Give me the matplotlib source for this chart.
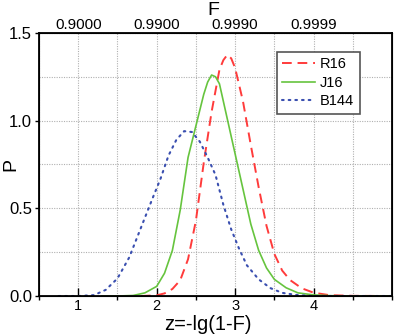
import matplotlib
matplotlib.use('Agg')
import matplotlib.pyplot as plt
from matplotlib.ticker import MultipleLocator, NullFormatter

plt.rcParams['font.family'] = ['Liberation Sans', 'DejaVu Sans']

# values
z_r16 = [1.6, 1.8, 2.0, 2.1, 2.2, 2.3, 2.4, 2.5, 2.6, 2.7, 2.8, 2.85, 2.9, 2.95,
         3.0, 3.1, 3.2, 3.3, 3.4, 3.5, 3.6, 3.7, 3.85, 4.0, 4.2, 4.5, 5.0]
p_r16 = [0, 0, 0.004, 0.015, 0.04, 0.09, 0.21, 0.43, 0.76, 1.05, 1.29, 1.345, 1.375, 1.355,
         1.30, 1.11, 0.86, 0.62, 0.40, 0.24, 0.145, 0.091, 0.044, 0.019, 0.005, 0.001, 0]

z_j16 = [1.3, 1.5, 1.7, 1.85, 2.0, 2.1, 2.2, 2.3, 2.4, 2.5, 2.6, 2.65, 2.7, 2.75, 2.8,
         2.9, 3.0, 3.1, 3.2, 3.3, 3.4, 3.5, 3.65, 3.8, 4.0, 4.2, 4.5, 5.0]
p_j16 = [0, 0, 0.003, 0.018, 0.055, 0.13, 0.26, 0.49, 0.79, 0.97, 1.15, 1.22, 1.26, 1.25, 1.21,
         1.01, 0.81, 0.61, 0.41, 0.26, 0.16, 0.095, 0.047, 0.018, 0.006, 0.002, 0, 0]

z_b144 = [0.75, 1.0, 1.2, 1.35, 1.5, 1.65, 1.8, 1.95, 2.05, 2.15, 2.25, 2.35, 2.45, 2.55,
          2.65, 2.75, 2.85, 2.95, 3.05, 3.15, 3.3, 3.45, 3.6, 3.8, 4.0, 4.5, 5.0]
p_b144 = [0, 0, 0.005, 0.035, 0.10, 0.22, 0.39, 0.56, 0.67, 0.80, 0.89, 0.94, 0.935, 0.88,
          0.79, 0.69, 0.52, 0.38, 0.27, 0.175, 0.095, 0.045, 0.018, 0.005, 0, 0, 0]

bottom_ticks = [1, 2, 3, 4]
top_ticks = [1, 2, 3, 4]
top_labels = ['0.9000', '0.9900', '0.9990', '0.9999']

fig = plt.figure(figsize=(3.94, 3.36), dpi=100)
ax = fig.add_axes([0.099, 0.119, 0.896, 0.783])

ax.plot(z_r16, p_r16, color='#ff3b3b', lw=1.4, ls=(0, (5, 3)), label='R16')
ax.plot(z_j16, p_j16, color='#66c43e', lw=1.2, ls='-', label='J16')
ax.plot(z_b144, p_b144, color='#3a4fb0', lw=1.5, ls=(0, (0.8, 2.4)), label='B144',
        dash_capstyle='round')

ax.set_xlim(0.5, 5.0)
ax.set_ylim(0, 1.5)
ax.set_xticks(bottom_ticks)
ax.xaxis.set_minor_locator(MultipleLocator(0.5))
ax.xaxis.set_minor_formatter(NullFormatter())
ax.set_yticks([0, 0.5, 1.0, 1.5])
ax.set_yticklabels(['0.0', '0.5', '1.0', '1.5'])
ax.yaxis.set_minor_locator(MultipleLocator(0.25))
ax.yaxis.set_minor_formatter(NullFormatter())

ax.grid(True, which='both', color='#b0b0b0', ls=(0, (1, 1.2)), lw=0.8)
ax.tick_params(axis='x', which='major', direction='in', length=6, width=1, labelsize=10.5, pad=2)
ax.tick_params(axis='x', which='minor', direction='out', length=3, width=1)
ax.tick_params(axis='y', which='major', direction='out', length=3, width=1, labelsize=12, pad=2)
ax.tick_params(axis='y', which='minor', length=0)
for s in ax.spines.values():
    s.set_linewidth(1.3)

ax.set_xlabel('z=-lg(1-F)', fontsize=14.5)
ax.xaxis.set_label_coords(0.479, -0.072)
ax.set_ylabel('P', fontsize=14)
ax.yaxis.set_label_coords(-0.057, 0.5)

ax2 = ax.twiny()
ax2.set_xlim(ax.get_xlim())
ax2.set_xticks(top_ticks)
ax2.set_xticklabels(top_labels, fontsize=11)
ax2.tick_params(axis='x', length=0, pad=1)
fig.text(0.541, 0.955, 'F', fontsize=14, ha='center', va='baseline')

leg = ax.legend(loc='upper left', bbox_to_anchor=(0.673, 0.929), borderaxespad=0,
                fontsize=10.5, frameon=True, fancybox=False, edgecolor='#555555',
                framealpha=1, handlelength=2.2, borderpad=0.4, labelspacing=0.3,
                handletextpad=0.35)
leg.get_frame().set_linewidth(1.2)

fig.savefig('out.png', dpi=100)
